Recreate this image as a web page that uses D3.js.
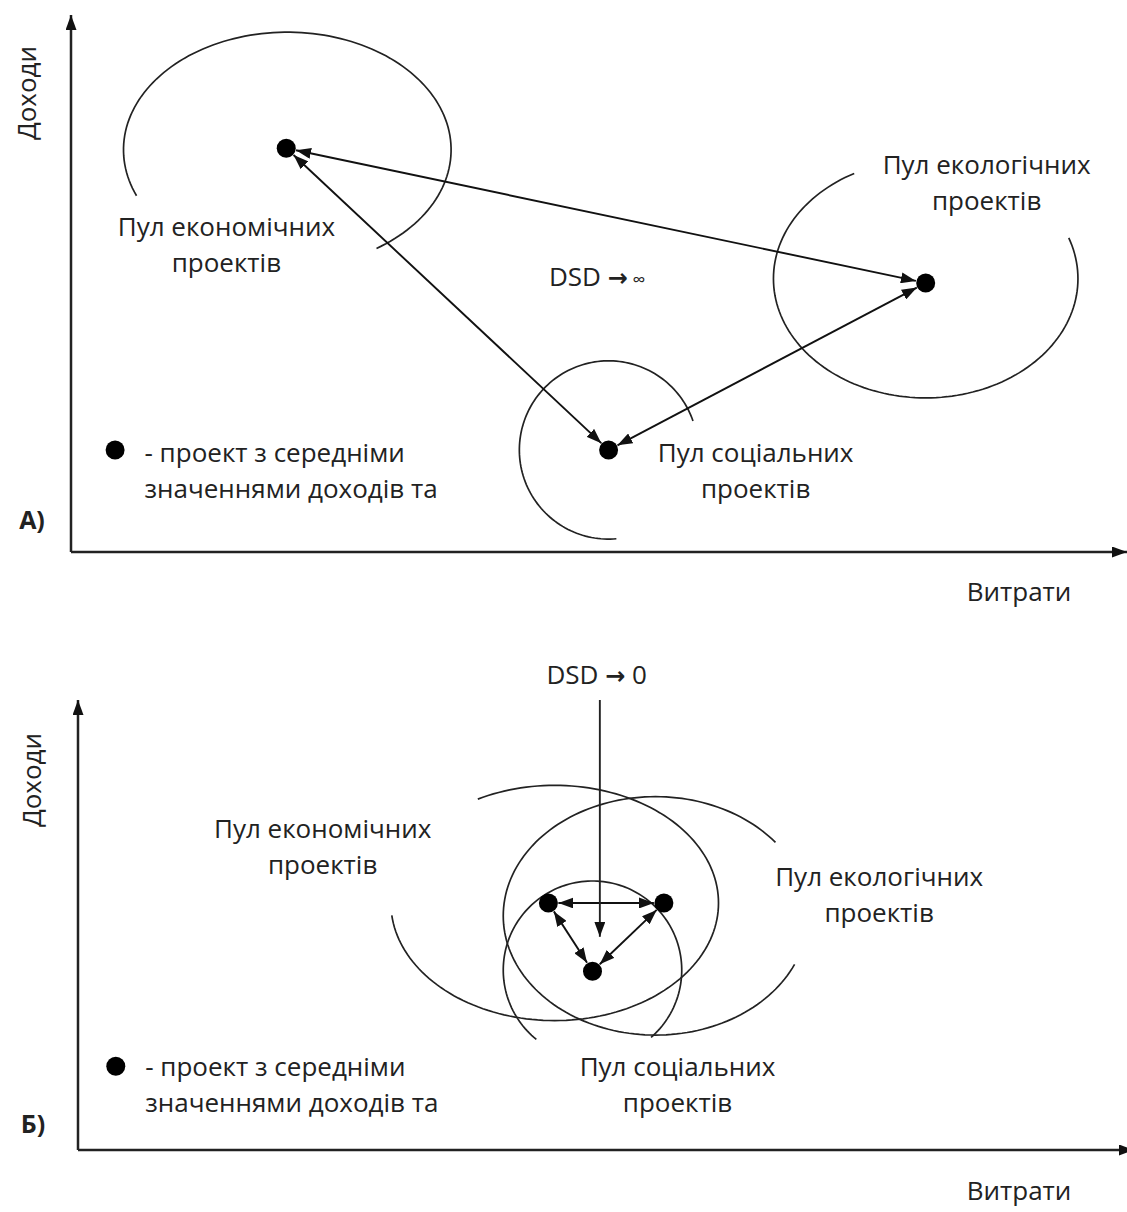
<!DOCTYPE html>
<html>
<head>
<meta charset="utf-8">
<script src="https://cdn.jsdelivr.net/npm/d3@7"></script>
<style>
  body { margin: 0; background: #fff; }
  text { font-family: "Open Sans", sans-serif; fill: #222; }
</style>
</head>
<body>
<svg id="svg1" width="1127" height="1212"></svg>
<script>
"use strict";

// pools: economic, ecological, social
const poolNames = ["Пул економічних", "Пул екологічних", "Пул соціальних"];
const poolLine2 = "проектів";
// ellipse radii of every pool, in axis units
const poolRx = [15.6, 14.5, 8.5];
const poolRy = [21.9, 22.2, 16.6];

// panel A : pools far apart (DSD -> infinity)
const dotsA    = [[20.5, 75.2], [81.4, 50.1], [51.2, 19.0]];
const centresA = [[20.6, 74.9], [81.4, 50.9], [51.2, 19.0]];
const arcsA    = [[157, 418], [-20, 242], [85, 342]];     // start / end angle, degrees
const labelsA  = [[14.8, 60.5], [87.2, 72.1], [65.2, 18.4]];

// panel B : pools close together (DSD -> 0)
const dotsB    = [[44.8, 46.0], [55.8, 46.0], [49.0, 33.3]];
const centresB = [[45.4, 46.0], [55.0, 43.6], [49.0, 33.5]];
const arcsB    = [[-118, 174], [24, 323], [129, 409]];
const labelsB  = [[23.3, 59.8], [76.3, 50.8], [57.1, 15.5]];

// double arrows between pools (index pairs)
const links = [[0, 1], [0, 2], [2, 1]];

const dsdStart = "DSD ";
const dsdEnd   = ["\u221e", "0"];
const dsdPos   = [[50.1, 51.2], [49.4, 88.5]];
const dsdArrowB = [[49.7, 83.8], [49.7, 39.7]];

const panelLetters = ["А)", "Б)"];
const xTitle = "Витрати";
const yTitle = "Доходи";
const legendLines = ["- проект з середніми", "значеннями доходів та"];
const legendDot  = [[4.2, 19.0], [3.6, 15.6]];
const legendText = [[7.0, 18.4], [6.4, 15.5]];
const yAxisTop = [100, 83.8];

const svg = d3.select("#svg1");
const fontSize = 26;

// markers
const defs = svg.append("defs");
defs.append("marker")
  .attr("id", "axisHead")
  .attr("viewBox", "0 0 15 11")
  .attr("refX", 15).attr("refY", 5.5)
  .attr("markerWidth", 15).attr("markerHeight", 11)
  .attr("markerUnits", "userSpaceOnUse")
  .attr("orient", "auto")
  .append("path").attr("d", "M0,0L15,5.5L0,11Z").attr("fill", "#111");

defs.append("marker")
  .attr("id", "head")
  .attr("viewBox", "0 0 15 11")
  .attr("refX", 15).attr("refY", 5.5)
  .attr("markerWidth", 15).attr("markerHeight", 11)
  .attr("markerUnits", "userSpaceOnUse")
  .attr("orient", "auto-start-reverse")
  .append("path").attr("d", "M0,0L15,5.5L0,11Z").attr("fill", "#111");

const panels = [
  { x: d3.scaleLinear().domain([0, 100]).range([71, 1121]),
    y: d3.scaleLinear().domain([0, 100]).range([552, 15]),
    dots: dotsA, centres: centresA, arcs: arcsA, labels: labelsA,
    letter: [32, 520], xt: [1019, 592], yt: [27, 93] },
  { x: d3.scaleLinear().domain([0, 100]).range([78, 1128]),
    y: d3.scaleLinear().domain([0, 100]).range([1150, 613]),
    dots: dotsB, centres: centresB, arcs: arcsB, labels: labelsB,
    letter: [33, 1124], xt: [1019, 1191], yt: [32, 780] }
];

panels.forEach((p, pi) => {
  const x = p.x, y = p.y;
  const g = svg.append("g");

  // axes
  g.append("line")
    .attr("x1", x(0)).attr("y1", y(0)).attr("x2", x(100) + 6).attr("y2", y(0))
    .attr("stroke", "#222").attr("stroke-width", 2.5)
    .attr("marker-end", "url(#axisHead)");
  g.append("line")
    .attr("x1", x(0)).attr("y1", y(0)).attr("x2", x(0)).attr("y2", y(yAxisTop[pi]))
    .attr("stroke", "#222").attr("stroke-width", 2.5)
    .attr("marker-end", "url(#axisHead)");

  g.append("text")
    .attr("x", p.xt[0]).attr("y", p.xt[1]).attr("dy", "0.35em")
    .attr("text-anchor", "middle").style("font-size", fontSize + "px")
    .text(xTitle);
  g.append("text")
    .attr("transform", `translate(${p.yt[0]},${p.yt[1]}) rotate(-90)`)
    .attr("dy", "0.35em")
    .attr("text-anchor", "middle").style("font-size", fontSize + "px")
    .text(yTitle);
  g.append("text")
    .attr("x", p.letter[0]).attr("y", p.letter[1]).attr("dy", "0.35em")
    .attr("text-anchor", "middle").style("font-size", "25px").style("font-weight", "bold")
    .text(panelLetters[pi]);

  // pool ellipses (open arcs)
  const line = d3.line();
  p.centres.forEach((c, i) => {
    const rx = x(poolRx[i]) - x(0), ry = y(0) - y(poolRy[i]);
    const [a0, a1] = p.arcs[i];
    const pts = d3.range(a0, a1 + 0.5, 2).map(a => {
      const t = a * Math.PI / 180;
      return [x(c[0]) + rx * Math.cos(t), y(c[1]) + ry * Math.sin(t)];
    });
    g.append("path").attr("d", line(pts))
      .attr("fill", "none").attr("stroke", "#222").attr("stroke-width", 1.7);
  });

  // arrows between pool dots
  links.forEach(([a, b]) => {
    const x1 = x(p.dots[a][0]), y1 = y(p.dots[a][1]);
    const x2 = x(p.dots[b][0]), y2 = y(p.dots[b][1]);
    const len = Math.hypot(x2 - x1, y2 - y1), gap = 10;
    const ux = (x2 - x1) / len, uy = (y2 - y1) / len;
    g.append("line")
      .attr("x1", x1 + ux * gap).attr("y1", y1 + uy * gap)
      .attr("x2", x2 - ux * gap).attr("y2", y2 - uy * gap)
      .attr("stroke", "#111").attr("stroke-width", 1.9)
      .attr("marker-start", "url(#head)").attr("marker-end", "url(#head)");
  });

  // dots
  g.selectAll(".dot").data(p.dots).enter().append("circle")
    .attr("cx", d => x(d[0])).attr("cy", d => y(d[1])).attr("r", 9.5)
    .attr("fill", "#000");

  // pool labels
  p.labels.forEach((l, i) => {
    const t = g.append("text")
      .attr("text-anchor", "middle").style("font-size", fontSize + "px");
    t.append("tspan").attr("x", x(l[0])).attr("y", y(l[1])).attr("dy", "0.35em").text(poolNames[i]);
    t.append("tspan").attr("x", x(l[0])).attr("y", y(l[1]) + 36).attr("dy", "0.35em").text(poolLine2);
  });

  // DSD label, with a bold arrow glyph
  const dt = g.append("text")
    .attr("x", x(dsdPos[pi][0])).attr("y", y(dsdPos[pi][1])).attr("dy", "0.35em")
    .attr("text-anchor", "middle").style("font-size", fontSize + "px");
  dt.append("tspan").text(dsdStart);
  dt.append("tspan").style("font-family", "DejaVu Sans").style("font-weight", "bold")
    .style("font-size", "24px").text("\u2192");
  dt.append("tspan").style("font-size", pi === 0 ? "18px" : fontSize + "px").text(" " + dsdEnd[pi]);

  // legend
  g.append("circle")
    .attr("cx", x(legendDot[pi][0])).attr("cy", y(legendDot[pi][1])).attr("r", 9.5)
    .attr("fill", "#000");
  const lt = g.append("text").style("font-size", fontSize + "px");
  legendLines.forEach((s, k) => {
    lt.append("tspan").attr("x", x(legendText[pi][0]))
      .attr("y", y(legendText[pi][1]) + k * 36).attr("dy", "0.35em").text(s);
  });
});

// vertical arrow from "DSD -> 0" down to the pools
const pB = panels[1];
svg.append("line")
  .attr("x1", pB.x(dsdArrowB[0][0])).attr("y1", pB.y(dsdArrowB[0][1]))
  .attr("x2", pB.x(dsdArrowB[1][0])).attr("y2", pB.y(dsdArrowB[1][1]))
  .attr("stroke", "#222").attr("stroke-width", 1.9)
  .attr("marker-end", "url(#head)");
</script>
</body>
</html>
